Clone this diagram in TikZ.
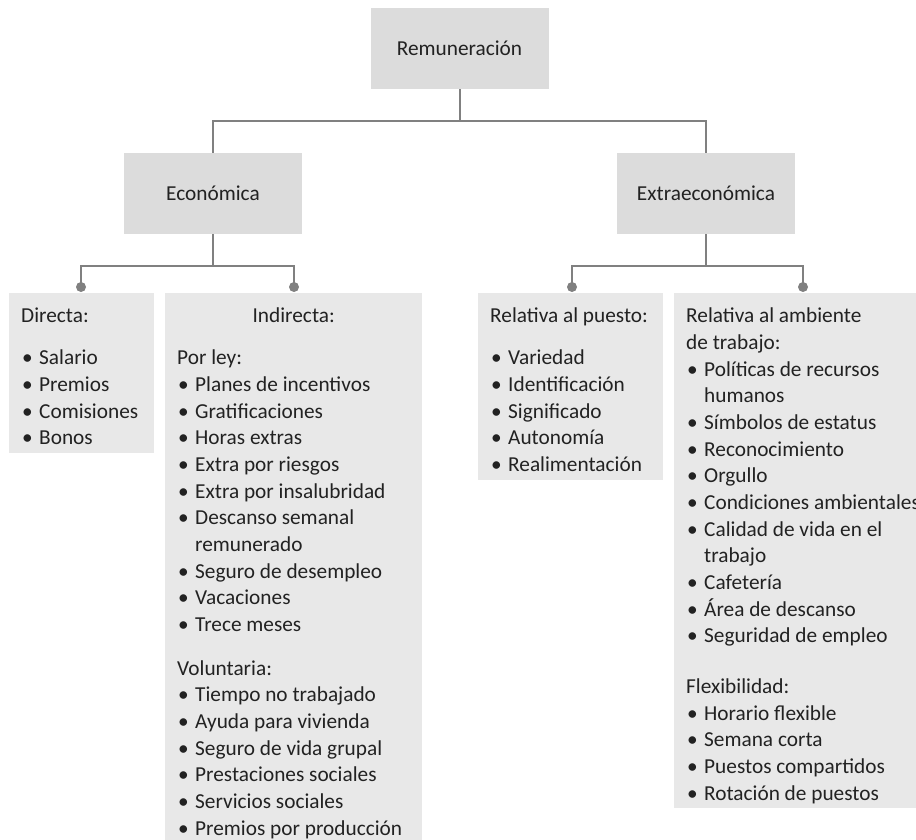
\documentclass[tikz,border=0pt]{standalone}
\usepackage{fontspec}
\setmainfont{Carlito}
\definecolor{linec}{HTML}{808080}
\definecolor{topbox}{HTML}{DCDCDC}
\definecolor{listbox}{HTML}{E8E8E8}
\definecolor{txt}{HTML}{222222}
\newcommand\bul[1]{\makebox[18pt][l]{\hspace{1pt}•}#1}
\newcommand\cont[1]{\hspace*{18pt}#1}
\begin{document}
\begin{tikzpicture}[x=1pt,y=-1pt,
  every node/.style={text=txt},
  topnode/.style={fill=topbox, minimum width=178pt, minimum height=81pt, inner sep=0pt, font=\fontsize{21.3}{26}\selectfont},
  listbg/.style={fill=listbox, anchor=north west, inner sep=0pt},
  listtxt/.style={anchor=north west, inner sep=0pt, align=left, font=\fontsize{21.3}{26.67}\selectfont},
  conn/.style={draw=linec, line width=2pt},
  dotc/.style={fill=linec}]
\useasboundingbox (0,0) rectangle (916,840);
% top boxes
\node[topnode] (rem) at (459.5,48.5) {Remuneración};
\node[topnode] (eco) at (213,193.5) {Económica};
\node[topnode] (ext) at (706,193.5) {Extraeconómica};
% list backgrounds
\node[listbg, minimum width=145pt, minimum height=160pt] (dir) at (9,293) {};
\node[listbg, minimum width=257pt, minimum height=560pt] (ind) at (165,293) {};
\node[listbg, minimum width=185pt, minimum height=187pt] (pue) at (478,293) {};
\node[listbg, minimum width=258pt, minimum height=515pt] (amb) at (674,293) {};
% dot coordinates
\coordinate (d1) at (81,287);
\coordinate (d2) at (294,287);
\coordinate (d3) at (572,287);
\coordinate (d4) at (803,287);
% connectors
\draw[conn] (rem.south) -- ++(0,32) coordinate (j0) -| (eco.north);
\draw[conn] (j0) -| (ext.north);
\draw[conn] (eco.south) -- ++(0,32) coordinate (j1) -| (d1);
\draw[conn] (j1) -| (d2);
\draw[conn] (ext.south) -- ++(0,32) coordinate (j2) -| (d3);
\draw[conn] (j2) -| (d4);
\foreach \d in {d1,d2,d3,d4} \fill[dotc] (\d) circle (5pt);
% texts
\node[listtxt] (dirt) at (21,303.8) {\strut Directa:\\[15.4pt]
 \bul{Salario}\\ \bul{Premios}\\ \bul{Comisiones}\\ \bul{Bonos}};
\node[listtxt] (indt) at (177,303.8) {\strut\makebox[233pt][c]{Indirecta:}\\[15.4pt]
 Por ley:\\
 \bul{Planes de incentivos}\\
 \bul{Gratificaciones}\\
 \bul{Horas extras}\\
 \bul{Extra por riesgos}\\
 \bul{Extra por insalubridad}\\
 \bul{Descanso semanal}\\
 \cont{remunerado}\\
 \bul{Seguro de desempleo}\\
 \bul{Vacaciones}\\
 \bul{Trece meses}\\[17pt]
 Voluntaria:\\
 \bul{Tiempo no trabajado}\\
 \bul{Ayuda para vivienda}\\
 \bul{Seguro de vida grupal}\\
 \bul{Prestaciones sociales}\\
 \bul{Servicios sociales}\\
 \bul{Premios por producción}};
\node[listtxt] (puet) at (490,303.8) {\strut Relativa al puesto:\\[15.4pt]
 \bul{Variedad}\\
 \bul{Identificación}\\
 \bul{Significado}\\
 \bul{Autonomía}\\
 \bul{Realimentación}};
\node[listtxt] (ambt) at (686,303.8) {\strut Relativa al ambiente\\
 de trabajo:\\
 \bul{Políticas de recursos}\\
 \cont{humanos}\\
 \bul{Símbolos de estatus}\\
 \bul{Reconocimiento}\\
 \bul{Orgullo}\\
 \bul{Condiciones ambientales}\\
 \bul{Calidad de vida en el}\\
 \cont{trabajo}\\
 \bul{Cafetería}\\
 \bul{Área de descanso}\\
 \bul{Seguridad de empleo}\\[24pt]
 Flexibilidad:\\
 \bul{Horario flexible}\\
 \bul{Semana corta}\\
 \bul{Puestos compartidos}\\
 \bul{Rotación de puestos}};
\end{tikzpicture}
\end{document}
